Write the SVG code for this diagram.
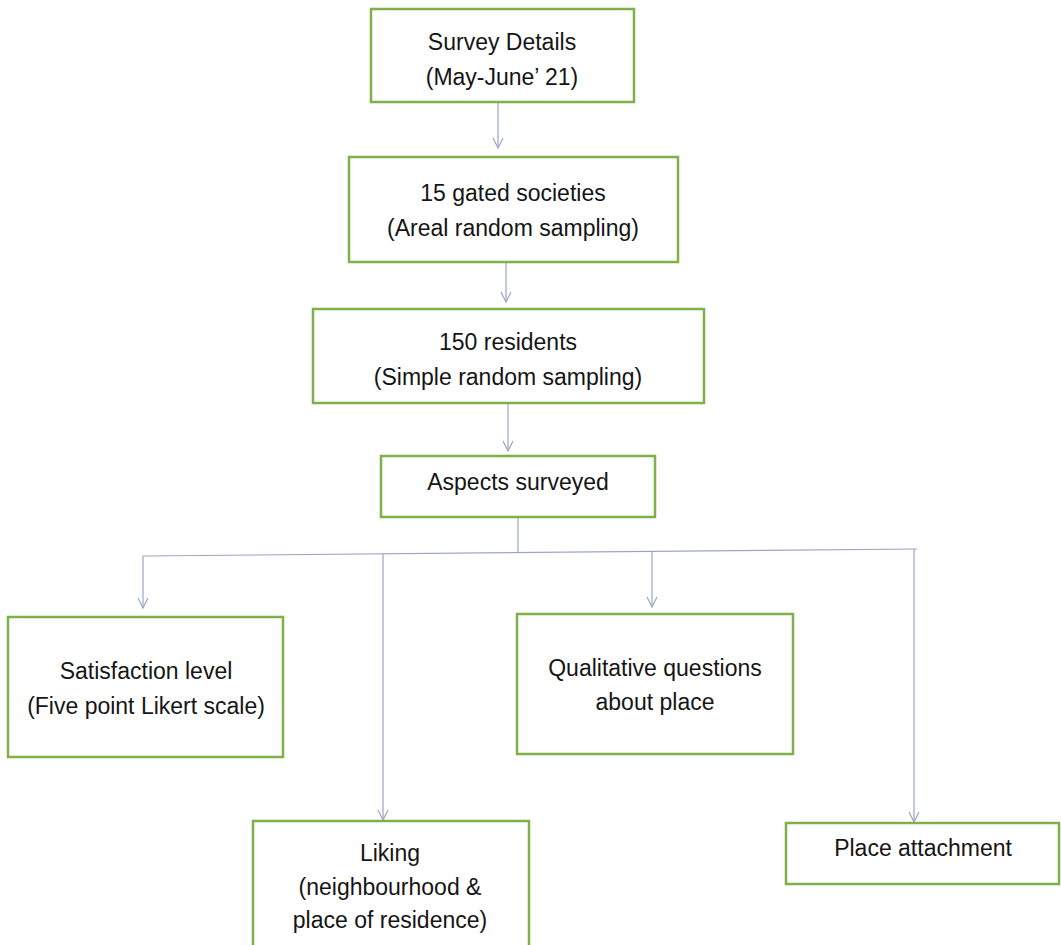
<svg xmlns="http://www.w3.org/2000/svg" width="1061" height="945" viewBox="0 0 1061 945">
<style>
.box{fill:#ffffff;stroke:#80b04a;stroke-width:2.5}
.t{font-family:"Liberation Sans",Arial,sans-serif;font-size:23px;fill:#151515;text-anchor:middle}
.c{stroke:#9ca6c4;stroke-width:1.2;fill:none}
</style>
<defs>
<marker id="ah" viewBox="0 0 12 12" refX="11" refY="6" markerWidth="12" markerHeight="12" markerUnits="userSpaceOnUse" orient="auto">
<path d="M1,1 L11,6 L1,11" fill="none" stroke="#9ca6c4" stroke-width="1.2"/>
</marker>
</defs>
<rect width="1061" height="945" fill="#ffffff"/>
<g id="connectors">
<line class="c" x1="498" y1="102" x2="498" y2="148" marker-end="url(#ah)"/>
<line class="c" x1="506" y1="262" x2="506" y2="302" marker-end="url(#ah)"/>
<line class="c" x1="508" y1="403" x2="508" y2="451" marker-end="url(#ah)"/>
<line class="c" x1="518" y1="517" x2="518" y2="552"/>
<line class="c" x1="143" y1="556" x2="917" y2="549"/>
<line class="c" x1="143" y1="556" x2="143" y2="608" marker-end="url(#ah)"/>
<line class="c" x1="383" y1="554" x2="383" y2="820" marker-end="url(#ah)"/>
<line class="c" x1="652" y1="551" x2="652" y2="607" marker-end="url(#ah)"/>
<line class="c" x1="914" y1="549" x2="914" y2="822" marker-end="url(#ah)"/>
</g>
<g id="n1">
<rect class="box" x="371" y="9" width="263" height="93"/>
<text class="t" x="502" y="50">Survey Details</text>
<text class="t" x="502" y="85">(May-June’ 21)</text>
</g>
<g id="n2">
<rect class="box" x="349" y="157" width="329" height="105"/>
<text class="t" x="513" y="201">15 gated societies</text>
<text class="t" x="513" y="236">(Areal random sampling)</text>
</g>
<g id="n3">
<rect class="box" x="313" y="309" width="391" height="94"/>
<text class="t" x="508" y="350">150 residents</text>
<text class="t" x="508" y="385">(Simple random sampling)</text>
</g>
<g id="n4">
<rect class="box" x="381" y="456" width="274" height="61"/>
<text class="t" x="518" y="490">Aspects surveyed</text>
</g>
<g id="n5">
<rect class="box" x="8" y="617" width="275" height="140"/>
<text class="t" x="146" y="679">Satisfaction level</text>
<text class="t" x="146" y="714">(Five point Likert scale)</text>
</g>
<g id="n6">
<rect class="box" x="517" y="614" width="276" height="140"/>
<text class="t" x="655" y="676">Qualitative questions</text>
<text class="t" x="655" y="710">about place</text>
</g>
<g id="n7">
<rect class="box" x="253" y="821" width="276" height="135"/>
<text class="t" x="390" y="861">Liking</text>
<text class="t" x="390" y="895">(neighbourhood &amp;</text>
<text class="t" x="390" y="928">place of residence)</text>
</g>
<g id="n8">
<rect class="box" x="786" y="823" width="273" height="61"/>
<text class="t" x="923" y="856">Place attachment</text>
</g>
</svg>
